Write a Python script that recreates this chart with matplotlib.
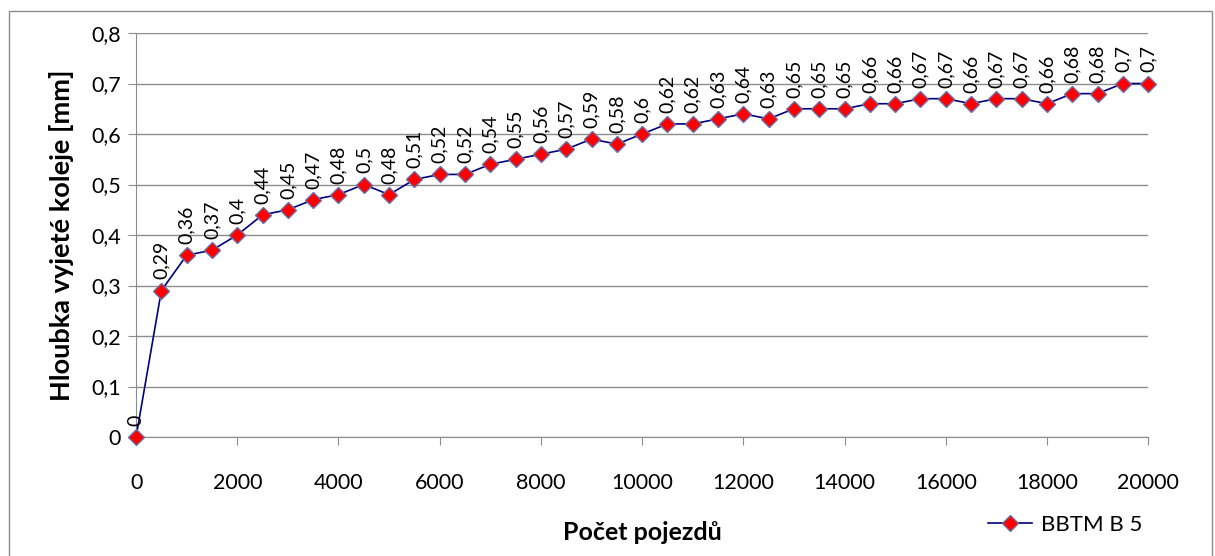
import numpy as np
import matplotlib.pyplot as plt
from matplotlib.patches import Rectangle
from matplotlib.ticker import FuncFormatter

plt.rcParams['font.family'] = ['Lato', 'DejaVu Sans']

# pocet pojezdu a hloubka vyjete koleje
pojezdy = np.arange(0, 20001, 500)
hloubka = [0, 0.29, 0.36, 0.37, 0.4, 0.44, 0.45, 0.47, 0.48, 0.5,
           0.48, 0.51, 0.52, 0.52, 0.54, 0.55, 0.56, 0.57, 0.59, 0.58,
           0.6, 0.62, 0.62, 0.63, 0.64, 0.63, 0.65, 0.65, 0.65, 0.66,
           0.66, 0.67, 0.67, 0.66, 0.67, 0.67, 0.66, 0.68, 0.68, 0.7, 0.7]
serie = 'BBTM B 5'

fig = plt.figure(figsize=(12.15, 5.56), dpi=100)
ax = fig.add_axes([0.112, 0.214, 0.833, 0.7266])

# ramecek kolem grafu
fig.patches.append(Rectangle((9/1215, -0.01), 1203/1215, 1 - 11/556 + 0.01,
                             transform=fig.transFigure, fill=False,
                             edgecolor='#8c8c8c', lw=1.0))

ax.plot(pojezdy, hloubka, '-', color='#000080', lw=1.2,
        marker='D', ms=8.5, mfc='red', mec='#6b6fa8', mew=1.0,
        label=serie, zorder=3, clip_on=False)

for x, y in zip(pojezdy, hloubka):
    txt = ('%g' % y).replace('.', ',')
    ax.annotate(txt, (x, y), xytext=(0, 8), textcoords='offset points',
                rotation=90, ha='center', va='bottom', fontsize=14)

ax.set_xlim(0, 20000)
ax.set_ylim(0, 0.8)
ax.set_xticks(np.arange(0, 20001, 2000))
ax.set_yticks(np.arange(0, 0.81, 0.1))
ax.yaxis.set_major_formatter(FuncFormatter(lambda v, p: ('%g' % round(v, 1)).replace('.', ',')))

ax.grid(axis='y', color='#8c8c8c', lw=1.0)
ax.set_axisbelow(True)
for s in ['top', 'right']:
    ax.spines[s].set_visible(False)
ax.spines['left'].set_color('#8c8c8c')
ax.spines['bottom'].set_color('#8c8c8c')
ax.tick_params(axis='x', direction='out', length=6, color='#8c8c8c', pad=20, labelsize=15.5)
ax.tick_params(axis='y', direction='out', length=6, color='#8c8c8c', pad=5, labelsize=15.5)

ax.set_xlabel('Počet pojezdů', fontsize=18, fontweight='bold', labelpad=20)
ax.set_ylabel('Hloubka vyjeté koleje [mm]', fontsize=19.5, fontweight='bold', labelpad=12)

ax.legend(loc='center left', bbox_to_anchor=(0.833, -0.218), frameon=False,
          fontsize=16, handlelength=2.0, handletextpad=0.4, borderaxespad=0)

fig.savefig('out.png', dpi=100)
